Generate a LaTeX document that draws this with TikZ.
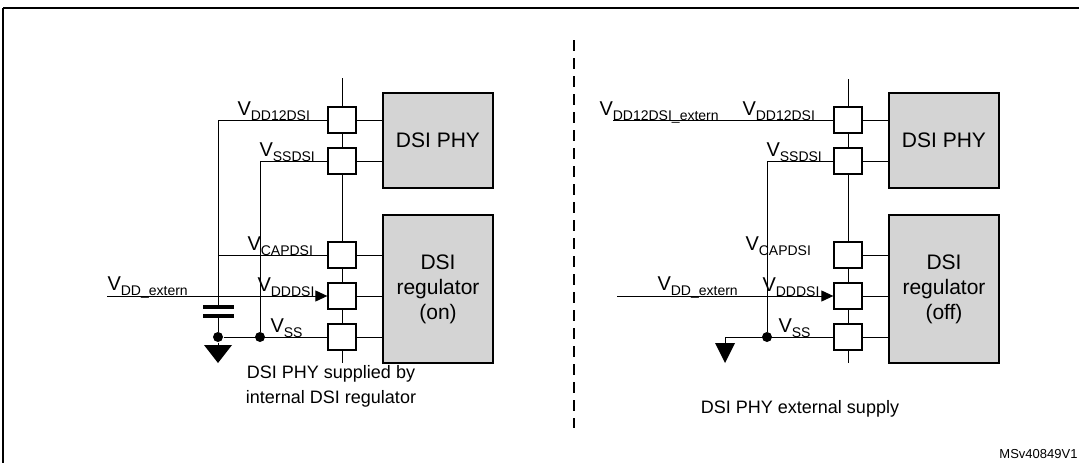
\documentclass[tikz,border=0pt]{standalone}
\usepackage{fontspec}
\setmainfont{Liberation Sans}
\usetikzlibrary{arrows.meta}
\begin{document}
\begin{tikzpicture}[x=1pt,y=-1pt,line width=1pt,
  pad/.style={draw,fill=white,minimum width=28pt,minimum height=26pt,inner sep=0,line width=1.3pt},
  blk/.style={draw,fill=black!17,minimum width=110pt,inner sep=0,line width=1.3pt,font=\fontsize{21}{25}\selectfont,align=center},
  lbl/.style={font=\fontsize{20}{22}\selectfont,anchor=base west,inner sep=0},
  capt/.style={font=\fontsize{18}{25}\selectfont,align=center},
  dot/.style={circle,fill,inner sep=0,minimum size=10pt},
  gnd/.style={fill,draw=none}]
\useasboundingbox (0,0) rectangle (1079,463);
\draw[line width=1.5pt] (3,8) -- (1082,8);
\draw[line width=1.5pt] (3,8) -- (3,466);
\newcommand{\s}[1]{\raisebox{-0.25em}{\fontsize{14}{16}\selectfont #1}}
% ---------- left ----------
\coordinate (lbt) at (342,78); \coordinate (lbb) at (342,363);
\draw (lbt) -- (lbb);
\node[pad] (la) at (342,120) {};
\node[pad] (lb) at (342,161) {};
\node[pad] (lc) at (342,255) {};
\node[pad] (ld) at (342,296) {};
\node[pad] (le) at (342,337) {};
\node[blk,minimum height=95pt] (lphy) at (438,140.5) {DSI PHY};
\node[blk,minimum height=148pt] (lreg) at (438,289) {DSI\\regulator\\(on)};
\foreach \p/\b in {la/lphy,lb/lphy,lc/lreg,ld/lreg,le/lreg} \draw (\p.east) -- (\p.east -| \b.west);
\coordinate (lv1) at (218,120); \coordinate (lv2) at (218,255);
\coordinate (lcp1) at (218,307); \coordinate (lcp2) at (218,316);
\node[dot] (lg) at (218,337) {};
\node[dot] (ls) at (260,337) {};
\coordinate (lst) at (260,161);
\coordinate (lin) at (107,296);
\draw (la.west) -- (lv1) -- (lcp1);
\draw (lv2) -- (lc.west);
\draw[line width=4pt] (203,307) -- (234,307) (203,316) -- (234,316);
\draw (lcp2) -- (lg) -- (le.west);
\draw (lb.west) -- (lst) -- (ls);
\draw[-{Triangle[length=12pt,width=11pt]}] (lin) -- (ld.west);
\draw (lg) -- (218,345);
\fill[gnd] (204,345) -- (232,345) -- (218,363) -- cycle;
\node[lbl] at (237,115) {V\s{DD12DSI}};
\node[lbl] at (259,156) {V\s{SSDSI}};
\node[lbl] at (247,250) {V\s{CAPDSI}};
\node[lbl] at (257,291) {V\s{DDDSI}};
\node[lbl] at (270,332) {V\s{SS}};
\node[lbl] at (107,290) {V\s{DD\_extern}};
\node[capt] at (331,386) {DSI PHY supplied by\\internal DSI regulator};
% ---------- divider ----------
\draw[dash pattern=on 11pt off 7pt,line width=1.3pt] (574,40) -- (574,428);
% ---------- right ----------
\draw (848,79) -- (848,363);
\node[pad] (ra) at (848,120) {};
\node[pad] (rb) at (848,161) {};
\node[pad] (rc) at (848,255) {};
\node[pad] (rd) at (848,296) {};
\node[pad] (re) at (848,337) {};
\node[blk,minimum height=95pt] (rphy) at (944,140.5) {DSI PHY};
\node[blk,minimum height=148pt] (rreg) at (944,289) {DSI\\regulator\\(off)};
\foreach \p/\b in {ra/rphy,rb/rphy,rc/rreg,rd/rreg,re/rreg} \draw (\p.east) -- (\p.east -| \b.west);
\coordinate (rin1) at (613,120);
\draw (rin1) -- (ra.west);
\coordinate (rst) at (767,161);
\node[dot] (rs) at (767,337) {};
\coordinate (rgt) at (725,337);
\draw (rb.west) -- (rst) -- (rs);
\draw (rgt) -- (re.west);
\draw (rgt) -- (725,343);
\fill[gnd] (715,343) -- (735,343) -- (725,363) -- cycle;
\coordinate (rin2) at (617,296);
\draw[-{Triangle[length=12pt,width=11pt]}] (rin2) -- (rd.west);
\node[lbl] at (599,115) {V\s{DD12DSI\_extern}};
\node[lbl] at (742,115) {V\s{DD12DSI}};
\node[lbl] at (766,156) {V\s{SSDSI}};
\node[lbl] at (745,250) {V\s{CAPDSI}};
\node[lbl] at (762,291) {V\s{DDDSI}};
\node[lbl] at (657,290) {V\s{DD\_extern}};
\node[lbl] at (778,332) {V\s{SS}};
\node[capt] at (800,409) {DSI PHY external supply};
\node[font=\fontsize{13}{15}\selectfont,anchor=base east,inner sep=0] at (1078,458) {MSv40849V1};
\end{tikzpicture}
\end{document}
